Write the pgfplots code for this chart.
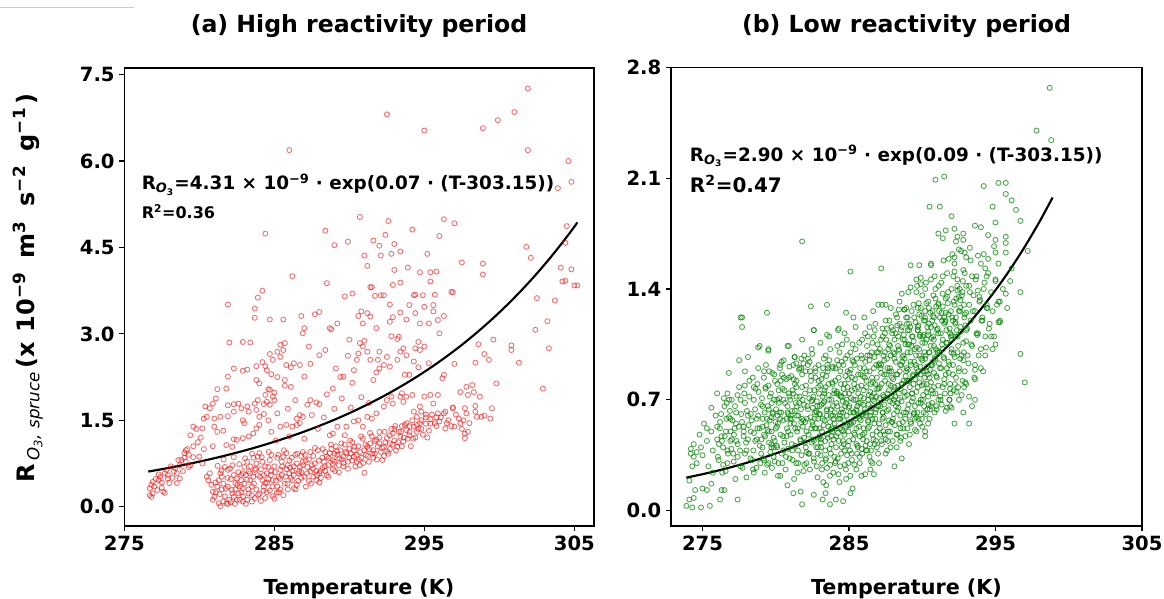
\documentclass[border=0pt]{standalone}
\usepackage{fontspec}
\setmainfont{DejaVu Sans}
\usepackage{pgfplots}
\pgfplotsset{compat=1.18}
\definecolor{mplgreen}{RGB}{0,128,0}
\begin{document}
\begin{tikzpicture}
\pgfplotsset{
 panel/.style={
  scale only axis, clip=true,
  axis line style={line width=1.2pt},
  tick pos=left, tick align=outside,
  major tick length=3.75pt,
  every tick/.style={black, line width=0.9pt},
  tick label style={font=\fontsize{14.7}{16}\selectfont\bfseries},
  /pgf/number format/assume math mode=true,
  scaled ticks=false,
  xtick={275,285,295,305},
  yticklabel style={/pgf/number format/fixed, /pgf/number format/fixed zerofill, /pgf/number format/precision=1},
 }
}
\path[use as bounding box] (0,0) rectangle (873pt,449.25pt);
\begin{axis}[panel, at={(93.225pt,54.75pt)}, anchor=south west, width=352.3pt, height=343.7pt,
  xmin=275, xmax=306.31, ymin=-0.335, ymax=7.62, ytick={0,1.5,3,4.5,6,7.5}]
\addplot[only marks, mark=o, mark size=1.9pt, mark options={draw=red, draw opacity=0.62, line width=0.6pt}] coordinates {
(301.9,7.26)(292.5,6.81)(295.0,6.53)(286.0,6.19)(298.9,6.57)(299.9,6.71)(301.0,6.85)(301.9,6.19)(304.6,6.00)(304.8,5.64)(303.9,5.53)
(290.7,5.03)(292.6,4.96)(296.3,4.99)(297.0,4.92)(294.2,4.81)(288.4,4.79)(284.4,4.74)(292.4,4.72)(296.0,4.70)(304.5,4.87)
(289.0,4.54)(289.9,4.60)(291.6,4.62)(292.0,4.53)(293.0,4.56)(293.4,4.43)(295.2,4.39)(291.0,4.36)(292.1,4.36)(292.8,4.39)(301.8,4.51)(304.4,4.58)
(286.2,4.00)(297.5,4.24)(298.9,4.22)(302.1,4.32)(304.1,4.15)(304.8,4.12)(291.2,4.18)(293.0,4.11)(293.9,4.15)(294.7,4.07)(295.4,4.07)(295.8,4.08)(298.9,4.03)
(288.5,3.88)(292.9,3.85)(293.4,3.89)(291.5,3.81)(304.4,3.92)(305.2,3.84)(284.2,3.75)(283.9,3.63)(290.2,3.70)(289.7,3.65)(292.1,3.67)(294.4,3.68)(295.7,3.68)(296.9,3.72)
(291.4,3.81)(295.4,3.91)(283.7,3.44)(283.7,3.28)(281.9,3.51)(284.7,3.25)(285.6,3.25)(286.8,3.31)(287.7,3.34)(288.0,3.38)(289.2,3.18)(288.8,3.08)(290.6,3.31)(290.8,3.39)(291.2,3.36)(291.4,3.30)(290.9,3.18)(291.7,3.66)(292.3,3.67)(292.7,3.51)(292.9,3.29)(293.4,3.37)(293.8,3.25)(294.3,3.67)(294.0,3.50)(294.4,3.36)(294.7,3.18)(294.9,3.67)(295.0,3.47)(295.3,3.18)(295.6,3.50)(295.6,3.39)(296.3,3.31)(296.8,3.73)(295.9,3.24)(291.8,3.10)(292.7,3.21)(302.5,3.62)(303.2,3.22)(303.7,3.58)(304.2,3.91)(305.0,3.84)(302.4,3.07)(287.0,3.10)(286.9,3.01)(296.0,3.01)
(282.9,2.86)(283.4,2.85)(282.0,2.85)(284.7,2.65)(285.2,2.69)(285.4,2.81)(285.7,2.84)(285.6,2.72)(284.9,2.55)(285.4,2.60)(284.4,2.44)(283.8,2.44)(284.2,2.51)(284.5,2.37)(284.8,2.30)(285.2,2.25)(283.8,2.20)(284.0,2.14)(284.6,2.04)(283.2,2.38)(282.9,2.36)(282.3,2.40)(281.9,2.26)(281.8,2.05)(281.2,2.04)(281.1,1.88)(280.9,1.79)(280.7,1.71)(280.4,1.74)(285.8,2.46)(286.1,2.42)(286.3,2.49)(286.7,2.46)(287.0,2.26)(287.4,2.48)(285.7,2.20)(285.7,2.10)(286.1,2.08)(285.0,1.98)(284.7,2.03)(284.4,1.94)(284.9,1.91)
(287.3,2.78)(288.0,2.63)(288.4,2.72)(288.7,3.10)(289.6,2.26)(289.4,2.25)(290.2,2.15)(290.3,2.37)(290.5,2.55)(290.6,2.66)(290.7,2.84)(290.9,2.78)(291.0,2.88)(291.2,2.69)(291.4,2.55)(291.6,2.20)(291.8,2.33)(291.9,2.55)(292.0,2.69)(292.5,2.60)(292.8,2.96)(293.2,2.91)(293.4,2.69)(293.3,2.95)(293.6,2.75)(293.2,2.55)(293.7,2.29)(294.0,2.29)(294.3,2.52)(294.4,2.75)(294.7,2.72)(294.6,2.86)(295.0,2.78)(295.3,2.49)(294.6,2.42)(293.8,2.63)(292.0,2.40)(292.3,2.46)(292.7,2.43)(298.6,2.82)(299.6,2.90)(299.0,2.65)(299.3,2.55)(298.4,2.50)(297.0,2.48)(296.3,2.29)(296.2,2.23)(300.8,2.80)(300.8,2.72)(301.3,2.50)(303.3,2.75)(302.9,2.05)(299.8,2.14)(288.9,2.05)(289.1,2.40)(289.9,2.62)(290.0,2.90)
(279.6,1.39)(279.4,1.24)(279.8,1.35)(280.2,1.36)(280.3,1.53)(280.5,1.56)(281.0,1.53)(281.4,1.56)(281.9,1.57)(281.9,1.76)(282.3,1.78)(282.6,1.79)(282.8,1.71)(282.3,1.65)(283.2,1.74)(283.3,1.65)(282.9,1.50)(281.2,1.30)(281.6,1.32)(280.9,1.05)(281.0,1.39)(282.3,1.17)(282.5,1.16)(281.8,1.07)(282.2,1.04)(282.9,1.19)(283.3,1.22)(283.6,1.27)(283.8,1.36)(284.0,1.42)(284.0,1.56)(284.3,1.61)(283.8,1.68)(283.7,1.79)(283.9,1.85)(284.3,1.78)(284.5,1.82)(284.7,1.77)(285.0,1.85)(285.4,1.39)(285.8,1.42)(286.2,1.39)(286.5,1.42)(286.7,1.45)(286.9,1.56)(286.7,1.59)(286.5,1.53)(287.4,1.85)(287.8,1.81)(288.0,1.78)(287.2,1.77)(287.5,1.59)(288.7,1.24)(288.9,1.27)(289.2,1.39)(289.7,1.24)(289.8,1.39)(290.3,1.48)(290.6,1.50)(290.9,1.39)(291.2,1.56)(291.5,1.53)(291.8,1.62)(292.3,1.74)(292.5,1.85)(292.8,1.91)(292.9,1.79)(293.4,1.91)(293.6,1.82)(293.5,1.97)(293.8,1.91)(294.2,1.94)(294.3,1.65)(294.5,1.56)(294.7,1.74)(294.8,1.65)(295.0,1.91)(295.4,1.94)(295.1,1.44)(295.4,1.44)(295.7,1.45)(296.0,1.48)(296.3,1.62)(296.4,1.65)(296.6,1.50)(296.9,1.72)(297.3,1.53)(297.4,1.99)(297.8,2.08)(298.2,2.11)(297.9,1.94)(298.3,1.99)(297.7,1.71)(297.8,1.62)(297.6,1.50)(297.4,1.45)(297.7,1.27)(297.7,1.19)(297.9,1.30)(298.5,1.56)(298.8,1.56)(298.4,1.65)(298.7,1.91)(299.5,1.71)(299.4,1.53)(297.0,1.39)(296.4,1.36)(295.6,1.79)(295.9,1.94)(296.9,1.71)
(283.0,1.45)(284.6,1.50)(285.2,1.62)(285.9,1.70)(286.4,1.85)(288.5,1.95)(289.0,1.70)(289.5,1.88)(290.1,1.72)(290.8,1.90)(291.3,1.80)(288.3,1.55)(287.9,1.35)(284.8,1.30)(285.1,1.15)(286.0,1.22)(287.0,1.18)
(276.7,0.32)(276.8,0.17)(276.9,0.43)(277.0,0.35)(277.2,0.29)(277.3,0.46)(277.4,0.52)(277.5,0.42)(277.6,0.26)(277.7,0.58)(277.8,0.64)(277.9,0.49)(278.0,0.41)(278.3,0.61)(278.4,0.67)(278.5,0.58)(278.7,0.72)(278.8,0.81)(279.0,0.93)(279.1,0.98)(279.2,1.00)(279.3,0.90)(279.4,0.72)(278.7,0.49)(278.5,0.41)(276.9,0.23)(276.7,0.20)(277.7,0.24)(278.6,0.81)(279.1,0.78)(279.3,0.69)(279.6,0.86)(280.0,0.87)
(276.8,0.38)(277.1,0.48)(277.5,0.33)(277.9,0.55)(278.2,0.50)(278.9,0.62)(279.6,1.05)(279.9,1.12)(280.1,1.20)(279.0,0.85)(280.3,1.00)(280.2,0.75)(277.3,0.56)(278.1,0.70)
(280.5,0.52)(280.6,0.46)(280.7,0.58)(280.8,0.38)(280.9,0.26)(280.9,0.12)(281.0,0.17)(281.3,0.06)(281.4,0.01)(281.6,0.09)(281.8,0.06)(281.9,0.05)(282.0,0.12)(282.3,0.17)(282.5,0.12)(282.6,0.23)(282.7,0.12)(282.9,0.09)(283.2,0.12)(283.5,0.09)(283.3,0.23)(283.5,0.20)(282.2,0.23)(281.2,0.35)(281.3,0.46)(281.4,0.58)(281.5,0.52)(281.7,0.69)(281.9,0.64)(282.2,0.72)(282.3,0.55)(282.4,0.41)(282.5,0.49)(282.7,0.35)(282.8,0.46)(282.9,0.58)(283.0,0.69)(283.2,0.78)(283.3,0.61)(283.4,0.46)(283.5,0.35)(283.6,0.52)(283.7,0.64)(283.8,0.75)(283.9,0.87)(284.0,0.93)(284.2,0.46)(284.3,0.35)(284.4,0.41)(284.5,0.58)(284.6,0.69)(284.7,0.81)(284.8,0.90)(284.9,0.46)(285.0,0.14)(285.2,0.35)(285.3,0.52)(285.4,0.64)(285.5,0.78)(285.6,0.87)(285.8,0.93)(285.9,0.72)(286.0,0.58)(286.2,0.46)(286.3,0.32)(286.5,0.38)(286.6,0.58)(286.7,0.69)(286.9,0.78)(287.2,0.69)(287.4,0.61)(287.6,0.52)(287.8,0.46)(288.0,0.58)(288.2,0.67)(288.3,0.78)(288.5,0.87)(288.7,0.93)(288.9,0.81)(289.2,0.90)(289.4,0.98)(289.6,0.87)(289.8,0.93)(290.0,1.01)(290.3,0.87)(290.5,0.78)(290.7,0.95)(291.0,0.59)(291.2,1.04)(291.4,1.10)(291.6,0.98)(291.8,1.16)(292.2,0.81)(292.3,1.04)(292.5,1.19)(292.7,1.10)(292.9,1.27)(293.2,1.04)(293.4,1.22)(293.6,1.13)(293.8,1.33)(294.0,1.24)(294.3,1.39)(294.5,1.30)(294.7,1.45)
(281.1,0.25)(281.5,0.30)(281.6,0.40)(281.9,0.35)(282.1,0.48)(282.4,0.30)(282.6,0.60)(282.8,0.25)(283.0,0.40)(283.1,0.55)(283.4,0.70)(283.6,0.85)(283.8,0.30)(283.9,0.55)(284.1,0.65)(284.2,0.78)(284.3,0.55)(284.5,0.25)(284.6,0.48)(284.8,0.62)(285.0,0.70)(285.1,0.45)(285.2,0.85)(285.4,0.30)(285.5,0.55)(285.7,0.40)(285.8,0.65)(286.0,0.80)(286.1,0.50)(286.3,0.70)(286.4,0.90)(286.6,0.45)(286.8,0.60)(286.9,0.95)(287.0,0.52)(287.1,0.80)(287.3,0.45)(287.5,0.72)(287.6,0.88)(287.8,0.62)(287.9,0.98)(288.1,0.50)(288.2,0.85)(288.4,0.62)(288.6,0.72)(288.8,1.00)(288.9,0.65)(289.0,0.78)(289.1,1.05)(289.3,0.72)(289.5,0.82)(289.7,1.08)(289.9,0.78)(290.1,0.92)(290.2,1.12)(290.4,0.70)(290.6,1.05)(290.8,0.85)(290.9,1.18)(291.1,0.90)(291.3,0.78)(291.5,1.22)(291.7,0.92)(291.9,1.05)(292.0,1.30)(292.1,0.95)(292.4,1.12)(292.6,0.92)(292.8,1.35)(293.0,1.15)(293.1,0.98)(293.3,1.30)(293.5,1.05)(293.7,1.42)(293.9,1.18)(294.1,1.05)(294.2,1.50)(294.4,1.20)(294.6,1.35)(294.9,1.25)(295.1,1.55)(295.3,1.32)(295.5,1.60)(295.8,1.40)(296.1,1.55)(296.5,1.45)(296.8,1.40)(297.1,1.60)(297.5,1.35)(298.0,1.45)(298.4,1.75)(299.0,1.58)
(281.7,0.18)(282.1,0.08)(282.9,0.32)(283.1,0.05)(283.7,0.15)(284.0,0.22)(284.1,0.10)(284.4,0.15)(284.7,0.28)(284.9,0.18)(285.3,0.25)(285.6,0.20)(285.9,0.30)(286.2,0.62)(286.5,0.75)(286.8,0.88)(287.1,0.35)(287.4,0.95)(287.7,0.75)(288.0,0.42)(288.4,0.95)(288.6,0.52)(289.0,0.92)(289.3,0.60)(289.6,0.70)(290.0,0.85)(290.3,0.98)(290.7,0.72)(291.0,0.98)(291.3,1.00)(291.6,0.85)(292.0,1.10)(292.3,0.88)(292.7,1.00)(293.0,1.35)(293.5,1.40)(294.0,1.40)(294.8,1.50)(295.2,1.20)(295.9,1.62)
(281.08,0.42)(281.22,0.71)(281.36,0.22)(281.48,0.63)(281.62,0.82)(281.77,0.31)(281.88,0.50)(282.04,0.66)(282.17,0.29)(282.29,0.86)(282.38,0.05)(282.53,0.38)(282.66,0.74)(282.78,0.55)(282.92,0.18)(283.05,0.84)(283.18,0.47)(283.27,0.30)(283.38,0.58)(283.52,0.92)(283.64,0.40)(283.77,0.66)(283.91,0.20)(284.04,0.52)(284.16,0.86)(284.28,0.28)(284.39,0.70)(284.52,0.42)(284.63,0.95)(284.77,0.55)(284.88,0.35)(285.04,0.60)(285.16,0.24)(285.27,0.90)(285.38,0.48)(285.52,0.70)(285.64,0.98)(285.76,0.52)(285.88,0.40)(286.04,0.68)(286.17,0.85)(286.29,0.55)(286.41,0.30)(286.53,0.92)(286.66,0.62)(286.79,0.50)(286.91,0.72)(287.04,0.90)(287.18,0.58)(287.31,0.82)(287.44,0.40)(287.57,0.66)(287.71,1.02)(287.84,0.55)(287.97,0.80)(288.08,0.62)(288.22,1.00)(288.36,0.70)(288.49,0.55)(288.63,0.84)(288.77,1.08)(288.91,0.74)(289.04,0.62)(289.18,0.96)(289.33,0.84)(289.47,1.10)(289.62,0.76)(289.76,0.95)(289.91,0.66)(290.05,1.15)(290.19,0.80)(290.34,1.04)(290.48,0.90)(290.63,0.82)(290.78,1.22)(290.92,0.76)(291.07,1.08)(291.22,0.88)(291.38,1.28)(291.53,0.92)(291.69,1.14)(291.84,0.82)(292.01,1.20)(292.18,1.02)(292.35,1.30)(292.52,0.96)(292.70,1.24)(292.88,1.08)(293.06,1.40)(293.25,1.12)(293.44,1.30)(293.63,1.20)(293.82,1.45)(294.02,1.30)(294.25,1.18)(294.5,1.42)(294.8,1.35)(295.1,1.60)(295.4,1.52)(295.8,1.55)
};
\addplot[black, line width=1.6pt, smooth] coordinates {
(276.6,0.610)(277.6,0.656)(278.6,0.706)(279.6,0.760)(280.6,0.817)(281.6,0.879)(282.6,0.946)(283.6,1.017)(284.6,1.095)(285.6,1.178)(286.6,1.267)(287.6,1.363)(288.6,1.466)(289.6,1.577)(290.6,1.697)(291.6,1.826)(292.6,1.964)(293.6,2.113)(294.6,2.273)(295.6,2.445)(296.6,2.631)(297.6,2.830)(298.6,3.045)(299.6,3.276)(300.6,3.524)(301.6,3.791)(302.6,4.078)(303.6,4.388)(304.6,4.720)(305.2,4.934)
};
\end{axis}
\begin{axis}[panel, at={(503.25pt,54.75pt)}, anchor=south west, width=353.25pt, height=344pt,
  xmin=272.85, xmax=305, ymin=-0.097, ymax=2.8, ytick={0,0.7,1.4,2.1,2.8}]
\addplot[only marks, mark=o, mark size=1.9pt, mark options={draw=mplgreen, draw opacity=0.7, line width=0.65pt}] coordinates {
(298.7,2.67)(297.8,2.40)(298.8,2.34)(290.9,2.09)(291.5,2.11)(294.2,2.05)(295.2,2.07)(295.7,2.07)(295.7,2.00)(296.1,1.96)(290.5,1.92)(291.2,1.92)(294.8,1.92)(296.4,1.90)(292.0,1.86)(296.7,1.83)(295.0,1.82)(293.6,1.80)(294.0,1.79)(291.1,1.75)(291.6,1.77)(292.2,1.78)(292.8,1.75)(291.4,1.72)(281.8,1.70)(292.4,1.73)(292.3,1.70)(292.8,1.71)(294.5,1.74)(295.0,1.71)(295.7,1.73)(295.7,1.69)(294.9,1.67)(295.0,1.63)(295.7,1.63)(297.2,1.64)(292.5,1.65)(292.9,1.63)(293.0,1.60)(293.8,1.61)(294.2,1.62)(294.5,1.59)(291.8,1.59)(292.2,1.60)(296.1,1.53)(294.3,1.53)(289.2,1.55)(289.8,1.55)(290.6,1.56)(290.6,1.55)(287.2,1.53)(285.1,1.51)(292.2,1.51)(292.9,1.50)(291.4,1.48)(293.4,1.48)(294.4,1.48)(295.0,1.45)(289.6,1.46)(289.9,1.47)(290.6,1.46)(290.2,1.40)(289.2,1.41)(289.9,1.43)(296.7,1.38)(295.7,1.37)(295.2,1.32)(292.4,1.39)(293.8,1.39)(293.2,1.42)(291.7,1.35)(288.6,1.37)(289.6,1.38)(293.9,1.35)(292.5,1.35)(291.1,1.31)(291.4,1.29)(287.0,1.30)(287.5,1.30)(288.4,1.27)(288.8,1.27)(289.7,1.28)(290.2,1.26)(279.4,1.25)(277.7,1.22)(277.7,1.16)(282.4,1.29)(283.5,1.30)(284.8,1.25)(285.3,1.22)(294.4,1.28)(295.2,1.19)(294.1,1.20)(293.0,1.25)(292.3,1.22)(291.5,1.22)(290.8,1.22)(289.0,1.22)(282.6,1.14)(283.5,1.11)(284.3,1.15)(284.7,1.12)(286.4,1.16)(287.6,1.15)(288.3,1.17)(289.0,1.14)(289.7,1.16)(290.4,1.11)(291.1,1.12)(292.0,1.11)(293.7,1.12)(294.7,1.10)(281.8,1.08)(278.9,1.04)(279.5,1.02)(280.9,1.04)
(296.7,0.99)(297.0,0.81)(293.2,0.55)(293.2,0.72)(293.6,0.70)(293.4,0.66)(291.6,0.63)(291.9,0.66)(291.9,0.77)(293.6,0.83)(293.6,0.89)(295.3,1.19)(295.3,1.32)
(273.9,0.03)(274.3,0.02)(274.4,0.08)(274.1,0.07)(274.9,0.02)(275.5,0.03)(276.2,0.07)(277.4,0.07)(274.1,0.19)(274.3,0.28)(274.4,0.34)(274.2,0.39)(274.6,0.37)(274.9,0.40)(274.5,0.13)(275.0,0.14)(275.3,0.13)(275.6,0.17)(276.3,0.13)(276.5,0.13)(275.7,0.24)(275.3,0.52)(275.6,0.65)(276.0,0.74)(276.7,0.74)(276.8,0.87)(277.5,0.95)(278.1,0.97)(277.9,0.88)(277.6,1.22)(278.8,1.03)(279.5,1.01)(278.5,0.78)(279.2,0.88)(276.0,0.53)(276.3,0.47)(276.8,0.59)(276.7,0.38)(277.0,0.45)(277.4,0.34)(277.8,0.53)(277.9,0.36)(278.3,0.61)(278.0,0.21)(278.5,0.24)(278.7,0.45)(279.1,0.53)(279.2,0.32)(279.7,0.40)(279.7,0.59)(280.1,0.70)(280.2,0.76)(280.3,0.92)(280.8,1.04)(281.3,0.97)(281.4,0.93)(282.6,1.14)(280.8,0.16)(281.2,0.11)(281.8,0.04)(282.6,0.10)(283.2,0.07)(283.7,0.04)(284.1,0.07)(284.6,0.06)(285.1,0.11)(283.4,0.11)(281.7,0.12)(286.1,0.23)(286.7,0.23)(286.6,0.30)(288.1,0.28)(288.6,0.33)(289.1,0.42)(290.2,0.47)(290.2,0.50)(290.4,0.55)(290.0,0.53)(289.6,0.59)
(292.5,0.70)(292.8,0.62)(293.0,0.80)(294.0,0.90)(294.3,0.98)(294.8,1.02)(295.0,1.05)(292.0,0.65)(292.2,0.55)
(274.2,0.36)(274.4,0.42)(274.6,0.30)(274.8,0.48)(275.0,0.35)(275.1,0.55)(275.3,0.44)(275.4,0.28)(275.6,0.50)(275.7,0.38)(275.9,0.60)(276.0,0.45)(276.1,0.32)(276.2,0.56)(276.4,0.40)(276.5,0.66)(276.6,0.50)(276.7,0.30)(276.9,0.58)(276.9,0.44)
(277.0,0.70)(277.1,0.36)(277.2,0.52)(277.3,0.62)(277.4,0.42)(277.5,0.78)(277.6,0.28)(277.7,0.56)(277.8,0.47)(277.9,0.68)(278.0,0.38)(278.1,0.60)(278.2,0.82)(278.3,0.50)(278.4,0.32)(278.5,0.70)(278.6,0.44)(278.7,0.58)(278.8,0.90)(278.9,0.52)
(279.0,0.36)(279.1,0.66)(279.2,0.48)(279.3,0.78)(279.4,0.58)(279.5,0.30)(279.6,0.72)(279.7,0.42)(279.8,0.62)(279.9,0.86)(280.0,0.52)(280.1,0.40)(280.2,0.68)(280.3,0.58)(280.4,0.94)(280.5,0.47)(280.6,0.76)(280.7,0.34)(280.8,0.62)(280.9,0.84)
(281.0,0.55)(281.0,0.70)(281.1,0.42)(281.2,0.92)(281.3,0.63)(281.4,0.30)(281.4,0.78)(281.5,0.52)(281.6,0.68)(281.7,0.44)(281.8,0.86)(281.8,0.58)(281.9,0.25)(282.0,0.74)(282.1,0.50)(282.2,0.96)(282.2,0.64)(282.3,0.36)(282.4,0.82)(282.5,0.56)(282.5,0.70)(282.6,0.44)(282.7,0.90)(282.8,0.62)(282.8,0.28)(282.9,0.78)
(283.0,0.52)(283.0,0.66)(283.1,0.40)(283.2,0.86)(283.2,0.58)(283.3,0.74)(283.4,0.32)(283.4,0.98)(283.5,0.48)(283.5,0.64)(283.6,0.80)(283.7,0.56)(283.7,0.22)(283.8,0.70)(283.8,0.42)(283.9,0.90)(283.9,0.60)(284.0,0.34)(284.0,0.76)(284.1,0.52)(284.2,1.04)(284.2,0.66)(284.3,0.44)(284.3,0.84)(284.4,0.58)(284.4,0.28)(284.5,0.72)(284.5,0.94)(284.6,0.50)(284.6,0.62)(284.7,0.38)(284.7,0.80)(284.8,0.68)(284.8,0.20)(284.9,0.88)(284.9,0.54)
(285.0,0.44)(285.0,0.74)(285.1,0.62)(285.1,1.00)(285.2,0.32)(285.2,0.84)(285.3,0.56)(285.3,0.70)(285.4,0.48)(285.4,0.92)(285.5,0.64)(285.5,0.26)(285.6,0.78)(285.6,0.40)(285.7,1.06)(285.7,0.58)(285.8,0.86)(285.8,0.68)(285.9,0.36)(285.9,0.96)(286.0,0.52)(286.0,0.76)(286.1,0.62)(286.1,1.12)(286.2,0.44)(286.2,0.88)(286.3,0.70)(286.3,0.56)(286.4,0.98)(286.4,0.34)(286.5,0.80)(286.5,0.62)(286.6,1.06)(286.6,0.48)(286.7,0.74)(286.7,0.90)(286.8,0.58)(286.8,1.18)(286.9,0.40)(286.9,0.84)
(287.0,0.66)(287.0,1.00)(287.1,0.52)(287.1,0.78)(287.2,0.92)(287.2,0.44)(287.3,1.10)(287.3,0.62)(287.4,0.86)(287.4,0.72)(287.5,0.54)(287.5,1.20)(287.6,0.96)(287.6,0.38)(287.7,0.80)(287.7,0.64)(287.8,1.04)(287.8,0.50)(287.9,0.88)(287.9,0.72)(288.0,1.14)(288.0,0.58)(288.1,0.96)(288.1,0.78)(288.2,0.66)(288.2,1.24)(288.3,0.48)(288.3,0.86)(288.4,1.02)(288.4,0.70)(288.5,0.92)(288.5,0.60)(288.6,1.16)(288.6,0.80)(288.7,0.52)(288.7,0.98)(288.8,1.08)(288.8,0.72)(288.9,0.88)(288.9,1.28)
(289.0,0.64)(289.0,1.00)(289.1,0.82)(289.1,1.18)(289.2,0.56)(289.2,0.94)(289.3,0.74)(289.3,1.10)(289.4,0.86)(289.4,1.30)(289.5,0.66)(289.5,1.02)(289.6,0.90)(289.6,0.50)(289.7,1.14)(289.7,0.78)(289.8,0.98)(289.8,1.24)(289.9,0.70)(289.9,0.86)(290.0,1.06)(290.0,1.36)(290.1,0.80)(290.1,0.62)(290.2,0.96)(290.2,1.20)(290.3,0.88)(290.3,1.08)(290.4,0.72)(290.4,1.32)(290.5,1.00)(290.5,0.84)(290.6,1.16)(290.6,0.66)(290.7,0.92)(290.7,1.26)(290.8,1.04)(290.8,0.78)(290.9,1.40)(290.9,0.96)
(291.0,0.84)(291.0,1.14)(291.1,1.30)(291.1,0.70)(291.2,1.00)(291.2,1.22)(291.3,0.90)(291.3,1.44)(291.4,1.08)(291.4,0.78)(291.5,1.18)(291.5,0.96)(291.6,1.34)(291.6,0.86)(291.7,1.06)(291.7,1.50)(291.8,1.24)(291.8,0.94)(291.9,1.12)(291.9,0.80)(292.0,1.40)(292.0,1.02)(292.1,1.20)(292.1,0.92)(292.2,1.30)(292.2,1.56)(292.3,1.10)(292.3,0.84)(292.4,1.46)(292.4,1.00)(292.5,1.26)(292.6,0.96)(292.6,1.16)(292.7,1.36)(292.8,1.06)(292.8,1.52)(292.9,0.88)(292.9,1.24)
(293.0,1.14)(293.0,1.42)(293.1,0.98)(293.2,1.30)(293.3,1.20)(293.3,1.58)(293.4,1.04)(293.5,1.36)(293.6,1.26)(293.6,0.92)(293.7,1.48)(293.8,1.12)(293.9,1.32)(294.0,1.02)(294.0,1.56)(294.1,1.22)(294.2,1.40)(294.3,1.10)(294.4,1.30)(294.5,1.50)(294.6,1.18)(294.7,1.38)(294.8,1.26)(294.9,1.10)(295.0,1.46)(295.1,1.30)(295.2,1.56)(295.3,1.20)(295.5,1.40)(295.8,1.28)(296.0,1.45)
(280.25,0.62)(280.55,0.84)(280.85,0.50)(281.15,0.76)(281.45,0.60)(281.75,0.96)(282.05,0.40)(282.35,0.88)(282.65,0.62)(282.95,0.46)(283.25,0.68)(283.55,0.90)(283.85,0.50)(284.15,0.74)(284.45,0.62)(284.75,0.96)(285.05,0.54)(285.35,0.80)(285.65,0.68)(285.95,0.60)(286.25,0.98)(286.55,0.72)(286.85,0.64)(287.15,0.90)(287.45,1.00)(287.75,0.88)(288.05,0.70)(288.35,1.10)(288.65,0.94)(288.95,0.82)(289.25,1.04)(289.55,0.92)(289.85,1.10)(290.15,1.00)(290.45,1.18)(290.75,1.10)(291.05,1.00)(291.35,1.20)(291.65,1.14)(291.95,1.26)(292.25,1.18)(292.55,1.40)(292.85,1.30)
(283.15,0.26)(283.45,0.16)(283.75,0.36)(284.05,0.30)(284.35,0.18)(284.65,0.42)(284.95,0.30)(285.25,0.14)(285.55,0.36)(285.85,0.22)(286.15,0.38)(286.45,0.26)(286.75,0.42)(287.05,0.30)(287.35,0.50)(287.65,0.44)(287.95,0.56)(288.25,0.40)(288.55,0.46)(288.85,0.58)(289.15,0.48)(289.45,0.62)(289.75,0.58)(290.05,0.70)(290.35,0.64)(290.65,0.76)(290.95,0.66)(291.25,0.70)(291.55,0.74)(291.85,0.70)(292.15,0.76)(292.45,0.78)(292.75,0.82)
(276.35,0.24)(276.65,0.68)(277.25,0.20)(277.85,0.74)(278.45,0.26)(278.75,0.80)(279.25,0.24)(279.55,0.88)(279.85,0.34)(280.15,0.22)(280.45,0.30)(281.25,0.20)(281.95,0.98)(282.45,1.02)(283.05,1.06)(283.65,1.10)(284.25,1.14)(284.85,1.08)(285.45,1.16)(286.05,1.22)(286.65,1.26)(287.25,1.30)(287.85,1.28)(288.45,1.32)(289.05,1.38)(289.65,1.42)(290.25,1.44)(290.85,1.48)(291.45,1.58)(292.05,1.62)(292.65,1.64)(293.25,1.66)
(276.05,0.34)(276.18,0.52)(276.27,0.61)(276.41,0.29)(276.52,0.47)(276.63,0.58)(276.74,0.36)(276.82,0.70)(276.91,0.50)(276.33,0.44)(276.58,0.25)(276.87,0.63)(276.12,0.42)(276.46,0.71)(276.97,0.39)
(277.04,0.57)(277.13,0.31)(277.22,0.66)(277.31,0.44)(277.39,0.73)(277.48,0.53)(277.56,0.38)(277.64,0.61)(277.73,0.27)(277.81,0.50)(277.89,0.79)(277.97,0.43)(277.28,0.55)(277.60,0.70)(277.15,0.48)
(278.03,0.63)(278.11,0.45)(278.19,0.72)(278.27,0.33)(278.35,0.57)(278.43,0.84)(278.51,0.49)(278.59,0.64)(278.67,0.27)(278.75,0.52)(278.83,0.75)(278.91,0.41)(278.99,0.67)(278.15,0.54)(278.47,0.38)(278.63,0.77)(278.79,0.60)(278.95,0.30)
(279.02,0.45)(279.06,0.71)(279.11,0.58)(279.15,0.33)(279.19,0.84)(279.24,0.62)(279.28,0.47)(279.33,0.92)(279.37,0.54)(279.41,0.29)(279.46,0.66)(279.50,0.79)(279.54,0.43)(279.59,0.57)(279.63,0.37)(279.67,0.74)(279.72,0.50)(279.76,0.87)(279.80,0.61)(279.85,0.46)(279.89,0.70)(279.93,0.31)(279.98,0.56)(279.09,0.40)(279.31,0.77)(279.52,0.64)(279.74,0.27)(279.95,0.82)(279.44,0.51)(279.87,0.40)
(280.02,0.64)(280.06,0.41)(280.11,0.80)(280.15,0.55)(280.19,0.30)(280.24,0.71)(280.28,0.90)(280.33,0.48)(280.37,0.62)(280.41,0.36)(280.46,0.77)(280.50,0.57)(280.54,0.95)(280.59,0.43)(280.63,0.68)(280.67,0.26)(280.72,0.83)(280.76,0.52)(280.80,0.66)(280.85,0.39)(280.89,0.74)(280.93,0.91)(280.98,0.58)(280.09,0.53)(280.31,0.22)(280.52,0.70)(280.74,0.47)(280.95,0.33)(280.43,0.86)(280.87,0.61)
(281.02,0.48)(281.06,0.85)(281.11,0.63)(281.15,0.32)(281.19,0.74)(281.24,0.55)(281.28,0.97)(281.33,0.41)(281.37,0.68)(281.41,0.82)(281.46,0.50)(281.50,0.24)(281.54,0.60)(281.59,0.89)(281.63,0.72)(281.67,0.45)(281.72,0.64)(281.76,0.35)(281.80,0.78)(281.85,0.53)(281.89,0.93)(281.93,0.67)(281.98,0.43)(281.09,0.58)(281.31,0.80)(281.52,0.38)(281.74,0.90)(281.95,0.29)(281.43,0.66)(281.87,0.57)
(282.02,0.56)(282.06,0.79)(282.11,0.37)(282.15,0.66)(282.19,0.92)(282.24,0.48)(282.28,0.71)(282.33,0.26)(282.37,0.59)(282.41,0.85)(282.46,0.43)(282.50,0.99)(282.54,0.65)(282.59,0.33)(282.63,0.76)(282.67,0.52)(282.72,0.88)(282.76,0.40)(282.80,0.69)(282.85,0.21)(282.89,0.58)(282.93,0.82)(282.98,0.47)(282.09,0.30)(282.31,0.94)(282.52,0.54)(282.74,0.63)(282.95,0.74)(282.43,0.69)(282.87,0.36)
(283.02,0.61)(283.06,0.35)(283.11,0.83)(283.15,0.50)(283.19,0.72)(283.24,0.18)(283.28,0.96)(283.33,0.57)(283.37,0.44)(283.41,0.78)(283.46,0.63)(283.50,0.27)(283.54,0.88)(283.59,0.53)(283.63,0.70)(283.67,0.39)(283.72,1.02)(283.76,0.60)(283.80,0.47)(283.85,0.81)(283.89,0.66)(283.93,0.24)(283.98,0.74)(283.09,0.45)(283.31,0.69)(283.52,0.92)(283.74,0.51)(283.95,0.58)(283.43,0.33)(283.87,0.91)
(284.02,0.55)(284.06,0.82)(284.11,0.40)(284.15,0.68)(284.19,0.95)(284.24,0.49)(284.28,0.23)(284.33,0.73)(284.37,0.60)(284.41,0.88)(284.46,0.36)(284.50,0.64)(284.54,1.05)(284.59,0.44)(284.63,0.77)(284.67,0.57)(284.72,0.29)(284.76,0.85)(284.80,0.53)(284.85,0.70)(284.89,0.98)(284.93,0.41)(284.98,0.65)(284.09,0.31)(284.31,0.92)(284.52,0.51)(284.74,0.66)(284.95,0.83)(284.43,0.72)(284.87,0.35)
(285.02,0.66)(285.06,0.38)(285.11,0.89)(285.15,0.55)(285.19,0.76)(285.24,1.05)(285.28,0.45)(285.33,0.62)(285.37,0.29)(285.41,0.83)(285.46,0.70)(285.50,0.52)(285.54,0.96)(285.59,0.41)(285.63,0.74)(285.67,0.60)(285.72,0.34)(285.76,0.90)(285.80,0.57)(285.85,0.79)(285.89,1.08)(285.93,0.48)(285.98,0.67)(285.09,0.22)(285.31,0.94)(285.52,0.63)(285.74,0.47)(285.95,0.85)(285.43,0.58)(285.87,0.39)
(286.02,0.71)(286.06,0.49)(286.11,0.94)(286.15,0.60)(286.19,0.82)(286.24,0.38)(286.28,1.10)(286.33,0.67)(286.37,0.53)(286.41,0.88)(286.46,0.75)(286.50,0.31)(286.54,1.00)(286.59,0.58)(286.63,0.81)(286.67,0.45)(286.72,0.69)(286.76,1.14)(286.80,0.62)(286.85,0.92)(286.89,0.50)(286.93,0.77)(286.98,0.36)(286.09,0.84)(286.31,0.57)(286.52,0.65)(286.74,0.97)(286.95,1.05)(286.43,0.42)(286.87,0.72)
(287.02,0.77)(287.06,0.55)(287.11,1.02)(287.15,0.66)(287.19,0.87)(287.24,0.42)(287.28,1.15)(287.33,0.73)(287.37,0.59)(287.41,0.95)(287.46,0.82)(287.50,0.36)(287.54,1.08)(287.59,0.63)(287.63,0.90)(287.67,0.50)(287.72,0.76)(287.76,1.20)(287.80,0.69)(287.85,0.98)(287.89,0.56)(287.93,0.84)(287.98,0.44)(287.09,0.93)(287.31,0.62)(287.52,0.71)(287.74,1.05)(287.95,1.12)(287.43,0.48)(287.87,0.79)
(288.02,0.83)(288.06,0.61)(288.11,1.08)(288.15,0.72)(288.19,0.94)(288.24,0.48)(288.28,1.22)(288.33,0.79)(288.37,0.65)(288.41,1.01)(288.46,0.88)(288.50,0.44)(288.54,1.14)(288.59,0.69)(288.63,0.97)(288.67,0.56)(288.72,0.82)(288.76,1.27)(288.80,0.75)(288.85,1.05)(288.89,0.62)(288.93,0.90)(288.98,0.52)(288.09,0.99)(288.31,0.68)(288.52,0.77)(288.74,1.11)(288.95,1.18)(288.43,0.55)(288.87,0.85)
(289.02,0.89)(289.06,0.67)(289.11,1.14)(289.15,0.78)(289.19,1.00)(289.24,0.55)(289.28,1.26)(289.33,0.85)(289.37,0.71)(289.41,1.07)(289.46,0.94)(289.50,0.51)(289.54,1.19)(289.59,0.75)(289.63,1.03)(289.67,0.62)(289.72,0.88)(289.76,1.31)(289.80,0.81)(289.85,1.11)(289.89,0.68)(289.93,0.96)(289.98,0.58)(289.09,1.05)(289.31,0.74)(289.52,0.83)(289.74,1.17)(289.95,1.23)(289.43,0.61)(289.87,0.91)
(290.02,0.95)(290.06,0.73)(290.11,1.20)(290.15,0.84)(290.19,1.06)(290.24,0.61)(290.28,1.31)(290.33,0.91)(290.37,0.77)(290.41,1.13)(290.46,1.00)(290.50,0.58)(290.54,1.25)(290.59,0.81)(290.63,1.09)(290.67,0.68)(290.72,0.94)(290.76,1.36)(290.80,0.87)(290.85,1.17)(290.89,0.74)(290.93,1.02)(290.98,0.64)(290.09,1.11)(290.31,0.80)(290.52,0.89)(290.74,1.23)(290.95,1.29)(290.43,0.67)(290.87,0.97)
(291.03,1.01)(291.09,0.79)(291.15,1.26)(291.21,0.90)(291.27,1.12)(291.33,0.67)(291.39,1.37)(291.45,0.97)(291.51,0.83)(291.57,1.19)(291.63,1.06)(291.69,0.65)(291.75,1.31)(291.81,0.87)(291.87,1.15)(291.93,0.74)(291.99,1.00)(291.12,1.42)(291.36,1.05)(291.60,1.25)(291.84,0.92)
(292.03,1.08)(292.09,0.86)(292.15,1.32)(292.21,0.97)(292.27,1.19)(292.33,0.75)(292.39,1.42)(292.45,1.04)(292.51,0.90)(292.57,1.26)(292.63,1.13)(292.69,0.73)(292.75,1.38)(292.81,0.95)(292.87,1.22)(292.93,0.81)(292.99,1.07)(292.12,1.48)(292.36,1.14)(292.60,1.33)(292.84,1.00)
(293.05,1.15)(293.15,0.93)(293.25,1.38)(293.35,1.05)(293.45,1.26)(293.55,0.84)(293.65,1.46)(293.75,1.11)(293.85,0.98)(293.95,1.33)(294.05,1.20)(294.15,0.88)(294.25,1.44)(294.35,1.03)(294.45,1.28)(294.55,1.15)
(282.53,0.45)(282.57,0.72)(282.61,0.31)(282.66,0.58)(282.71,0.84)(282.77,0.52)(282.83,0.66)(282.88,0.40)(282.92,0.92)(282.97,0.61)
(283.03,0.79)(283.08,0.43)(283.13,0.67)(283.17,0.30)(283.22,0.90)(283.27,0.54)(283.32,0.76)(283.38,0.38)(283.44,0.85)(283.49,0.60)(283.55,0.46)(283.61,0.73)(283.66,0.95)(283.71,0.29)(283.77,0.64)(283.83,0.52)(283.88,0.80)(283.94,0.45)
(284.03,0.62)(284.08,0.90)(284.13,0.47)(284.18,0.75)(284.23,0.33)(284.29,0.58)(284.35,1.00)(284.40,0.52)(284.45,0.80)(284.51,0.40)(284.57,0.69)(284.62,0.92)(284.68,0.48)(284.73,0.74)(284.79,0.26)(284.84,0.60)(284.90,0.78)(284.96,0.50)
(285.03,0.87)(285.08,0.56)(285.13,0.71)(285.18,0.36)(285.23,0.95)(285.29,0.62)(285.35,0.49)(285.40,0.77)(285.45,1.02)(285.51,0.42)(285.57,0.66)(285.62,0.86)(285.68,0.53)(285.73,0.30)(285.79,0.72)(285.84,0.98)(285.90,0.61)(285.96,0.45)
(286.03,0.90)(286.08,0.64)(286.13,0.41)(286.18,0.78)(286.23,1.04)(286.29,0.52)(286.35,0.73)(286.40,0.95)(286.45,0.60)(286.51,0.38)(286.57,0.84)(286.62,0.70)(286.68,1.10)(286.73,0.55)(286.79,0.80)(286.84,0.44)(286.90,1.00)(286.96,0.66)
(287.03,0.92)(287.08,0.71)(287.13,0.48)(287.18,1.08)(287.23,0.80)(287.29,0.58)(287.35,0.98)(287.40,0.67)(287.45,1.12)(287.51,0.45)(287.57,0.86)(287.62,0.74)(287.68,1.02)(287.73,0.57)(287.79,0.90)(287.84,0.40)(287.90,1.16)(287.96,0.68)
(288.03,1.00)(288.08,0.76)(288.13,0.54)(288.18,1.12)(288.23,0.86)(288.29,0.63)(288.35,1.04)(288.40,0.74)(288.45,1.18)(288.51,0.52)(288.57,0.92)(288.62,0.80)(288.68,1.08)(288.73,0.62)(288.79,0.96)(288.84,0.47)(288.90,1.22)(288.96,0.73)
(289.03,1.05)(289.08,0.82)(289.13,0.60)(289.18,1.16)(289.23,0.92)(289.29,0.69)(289.35,1.10)(289.40,0.80)(289.45,1.22)(289.51,0.58)(289.57,0.98)(289.62,0.86)(289.68,1.14)(289.73,0.68)(289.79,1.02)(289.84,0.55)(289.90,1.28)(289.96,0.79)
(290.03,1.10)(290.08,0.88)(290.13,0.66)(290.18,1.22)(290.23,0.98)(290.29,0.75)(290.35,1.16)(290.40,0.86)(290.45,1.28)(290.51,0.64)(290.57,1.04)(290.62,0.92)(290.68,1.20)(290.73,0.74)(290.79,1.08)(290.84,0.62)(290.90,1.34)(290.96,0.85)
(291.05,1.15)(291.14,0.93)(291.23,0.72)(291.32,1.25)(291.41,1.02)(291.50,0.80)(291.59,1.20)(291.68,0.90)(291.77,1.38)(291.86,0.70)(291.95,1.10)
(292.05,1.22)(292.14,0.99)(292.23,0.80)(292.32,1.34)(292.41,1.10)(292.50,0.88)(292.59,1.28)(292.68,0.98)(292.77,1.45)(292.86,0.78)(292.95,1.17)
(281.03,0.60)(281.13,0.38)(281.23,0.83)(281.33,0.52)(281.43,0.72)(281.53,0.30)(281.63,0.90)(281.73,0.56)(281.83,0.70)(281.93,0.46)(282.03,0.88)(282.13,0.58)(282.23,0.36)(282.33,0.76)(282.43,0.52)
(279.53,0.50)(279.73,0.68)(279.93,0.44)(280.13,0.60)(280.33,0.82)(280.53,0.38)(280.73,0.58)(280.93,0.72)
};
\addplot[black, line width=1.6pt, smooth] coordinates {
(273.9,0.2085)(274,0.2104)(275,0.2302)(276,0.2519)(277,0.2756)(278,0.3016)(279,0.3300)(280,0.3610)(281,0.3950)(282,0.4322)(283,0.4730)(284,0.5175)(285,0.5662)(286,0.6195)(287,0.6779)(288,0.7417)(289,0.8116)(290,0.8880)(291,0.9716)(292,1.0631)(293,1.1633)(294,1.2728)(295,1.3927)(296,1.5238)(297,1.6673)(298,1.8244)(298.9,1.978)
};
\end{axis}
\begin{scope}[shift={(0pt,449.25pt)}, x=0.75pt, y=-0.75pt]
\draw[black!20, line width=0.75pt] (0,8) -- (134,8);
\node[anchor=base, inner sep=0pt] at (359,33) {\fontsize{17.7}{20}\selectfont\bfseries (a) High reactivity period};
\node[anchor=base, inner sep=0pt] at (906.5,33) {\fontsize{17.7}{20}\selectfont\bfseries (b) Low reactivity period};
\node[anchor=base, inner sep=0pt] at (359,595) {\fontsize{15.5}{18}\selectfont\bfseries Temperature (K)};
\node[anchor=base, inner sep=0pt] at (906.5,595) {\fontsize{15.5}{18}\selectfont\bfseries Temperature (K)};
\node[anchor=base west, inner sep=0pt, rotate=90] at (34,483) {\fontsize{18}{20}\selectfont\bfseries R\hspace{3pt}\raisebox{-4pt}{\fontsize{12.5}{14}\selectfont\mdseries\itshape O\textsubscript{3}, spruce}\hspace{3pt}(x\hspace{1pt} 10\textsuperscript{−9}\hspace{4.5pt} m\textsuperscript{3}\hspace{4.5pt} s\textsuperscript{−2}\hspace{4.5pt} g\textsuperscript{−1}\hspace{2pt})};
\node[anchor=base west, inner sep=0pt] at (141.5,190) {\fontsize{13.8}{16}\selectfont\bfseries R\textsubscript{\itshape O\textsubscript{\upshape 3}}=4.31 × 10\textsuperscript{−9} · exp(0.07 · (T-303.15))};
\node[anchor=base west, inner sep=0pt] at (141.5,218.3) {\fontsize{12}{14}\selectfont\bfseries R\textsuperscript{2}=0.36};
\node[anchor=base west, inner sep=0pt] at (689.7,161.5) {\fontsize{13.8}{16}\selectfont\bfseries R\textsubscript{\itshape O\textsubscript{\upshape 3}}=2.90 × 10\textsuperscript{−9} · exp(0.09 · (T-303.15))};
\node[anchor=base west, inner sep=0pt] at (689.7,192.7) {\fontsize{15}{18}\selectfont\bfseries R\textsuperscript{2}=0.47};
\end{scope}
\end{tikzpicture}
\end{document}
